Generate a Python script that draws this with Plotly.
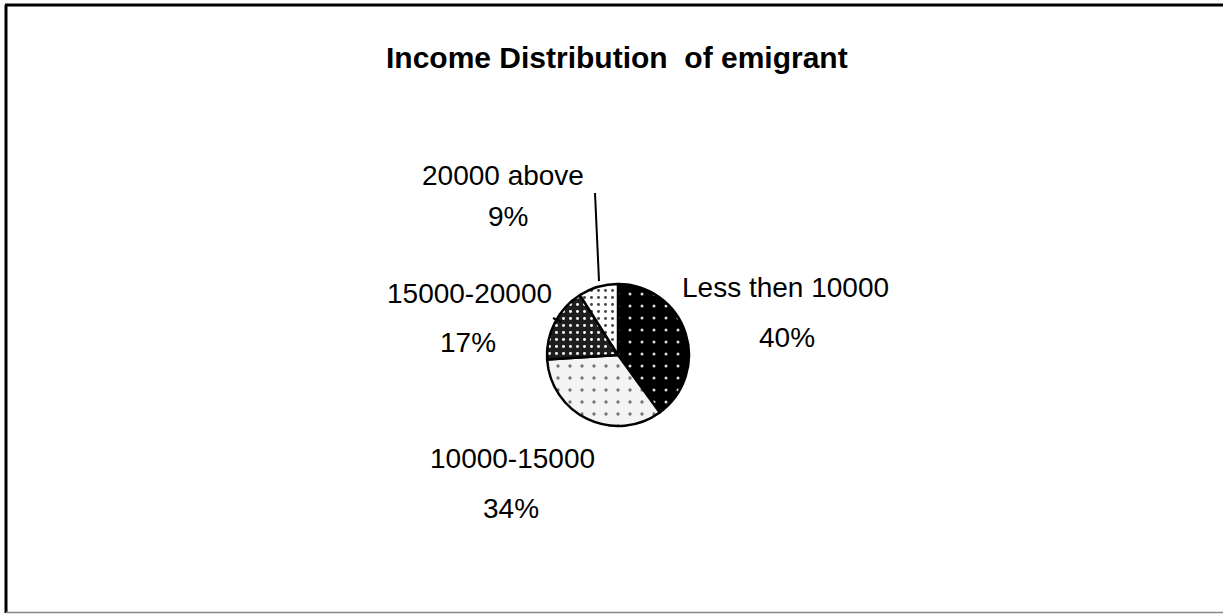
import plotly.graph_objects as go

W, H = 1223, 614

categories = ["Less then 10000", "10000-15000", "15000-20000", "20000 above"]
values = [40, 34, 17, 9]
title_text = "Income Distribution\u00a0 of emigrant"

# label centre positions (page px) for name line and percent line
label_name_pos = [(785, 287), (512, 458), (469, 293), (503, 175)]
label_pct_pos = [(787, 337), (511, 508), (468, 342), (508, 217)]


def px(x, y):
    return x / W, 1 - y / H


FONT = "Liberation Sans, Arial, sans-serif"

cx, cy, r = 618, 355, 71
x0, y0 = px(cx - r, cy + r)
x1, y1 = px(cx + r, cy - r)

fig = go.Figure(
    go.Pie(
        labels=categories,
        values=values,
        sort=False,
        direction="clockwise",
        rotation=0,
        textinfo="none",
        hoverinfo="label+percent",
        domain=dict(x=[x0, x1], y=[y0, y1]),
        marker=dict(
            colors=["#000000", "#f4f4f4", "#1e1e1e", "#ffffff"],
            line=dict(color="#000000", width=2.5),
            pattern=dict(
                shape=[".", ".", ".", "."],
                bgcolor=["#000000", "#f4f4f4", "#1e1e1e", "#ffffff"],
                fgcolor=["#dddddd", "#777777", "#ffffff", "#444444"],
                size=[12, 12, 7, 7],
                solidity=[0.05, 0.06, 0.14, 0.14],
                fillmode="replace",
            ),
        ),
        showlegend=False,
    )
)

annotations = []
tx, ty = px(617, 57)
annotations.append(dict(x=tx, y=ty, xref="paper", yref="paper", text=f"<b>{title_text}</b>",
                        showarrow=False, font=dict(family=FONT, size=30, color="#000000"),
                        xanchor="center", yanchor="middle"))
for cat, v, (nx, ny), (pxx, pyy) in zip(categories, values, label_name_pos, label_pct_pos):
    ax, ay = px(nx, ny)
    annotations.append(dict(x=ax, y=ay, xref="paper", yref="paper", text=cat, showarrow=False,
                            font=dict(family=FONT, size=28, color="#000000"),
                            xanchor="center", yanchor="middle"))
    bx, by = px(pxx, pyy)
    annotations.append(dict(x=bx, y=by, xref="paper", yref="paper", text=f"{v}%", showarrow=False,
                            font=dict(family=FONT, size=28, color="#000000"),
                            xanchor="center", yanchor="middle"))


def line(xa, ya, xb, yb, color="#000000", width=2):
    p0 = px(xa, ya)
    p1 = px(xb, yb)
    return dict(type="line", xref="paper", yref="paper", x0=p0[0], y0=p0[1], x1=p1[0], y1=p1[1],
                line=dict(color=color, width=width))


shapes = [
    line(5, 5, 1223, 5, width=3),
    line(6, 5, 6, 613, width=3),
    line(6, 612.5, 1223, 612.5, color="#888888", width=1.5),
    # leader lines
    line(595, 193, 599, 281, width=2),
    line(553, 318, 561, 322, width=2),
]

fig.update_layout(
    width=W, height=H,
    margin=dict(l=0, r=0, t=0, b=0),
    paper_bgcolor="#ffffff",
    plot_bgcolor="#ffffff",
    annotations=annotations,
    shapes=shapes,
    showlegend=False,
)

fig.write_html(
    "out.html",
    config={"displayModeBar": False},
    post_script="document.body.style.margin='0';document.body.style.overflow='hidden';",
)
